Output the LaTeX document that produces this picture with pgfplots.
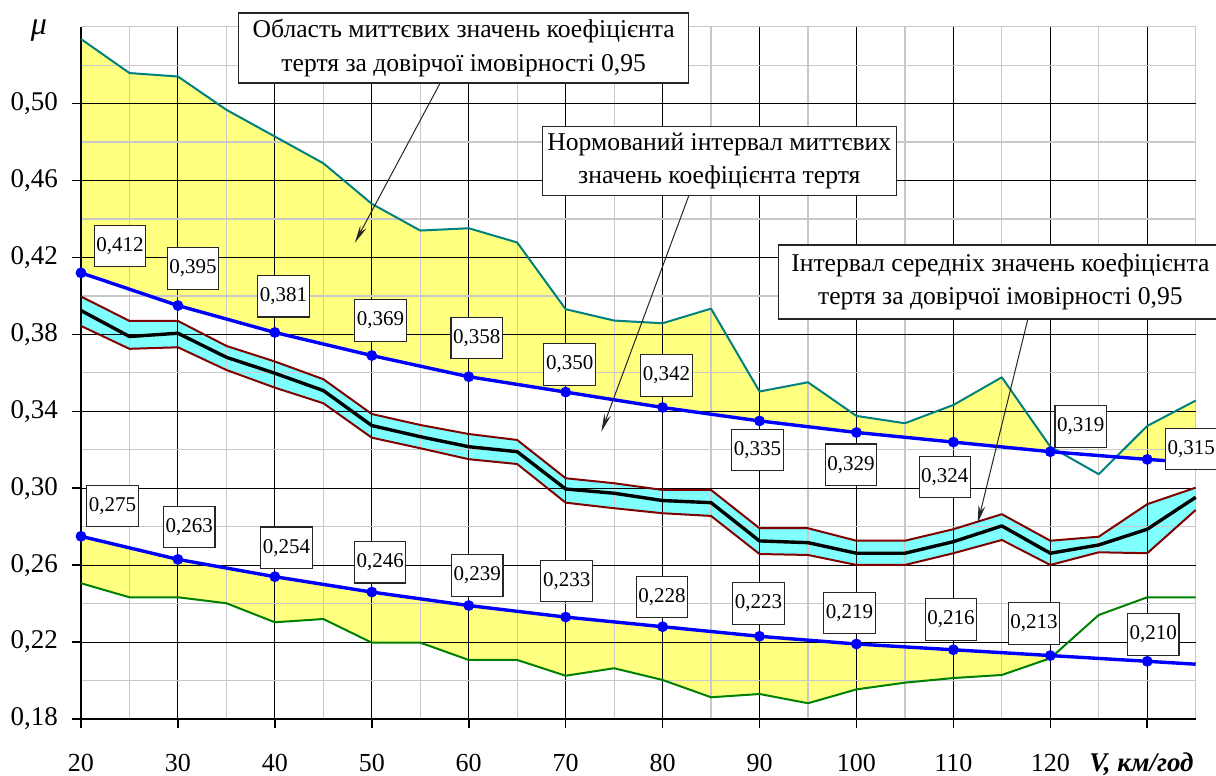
\documentclass[border=0pt]{standalone}
\usepackage{fontspec}
\setmainfont{Liberation Serif}
\usepackage{pgfplots}
\usepackage{pgfplotstable}
\pgfplotsset{compat=1.18}
\usepgfplotslibrary{fillbetween}
\usetikzlibrary{arrows.meta}

\definecolor{fillyellow}{HTML}{FFFF80}
\definecolor{bandcyan}{HTML}{80FFFF}
\definecolor{envteal}{HTML}{008080}
\definecolor{envgreen}{HTML}{008000}
\definecolor{bandred}{HTML}{800000}
\definecolor{normblue}{HTML}{0000FF}
\definecolor{minorgrid}{HTML}{C8C8C8}

% upper envelope of instantaneous values (p = 0.95)
\pgfplotstableread{
V mu
20 0.5336
25 0.5159
30 0.5141
35 0.4968
40 0.4829
45 0.4690
50 0.4479
55 0.4340
60 0.4352
65 0.4278
70 0.3931
75 0.3872
80 0.3858
85 0.3934
90 0.3503
95 0.3551
100 0.3376
105 0.3338
110 0.3433
115 0.3577
120 0.3216
125 0.3073
130 0.3324
135 0.3456
}\tealdata

% lower envelope of instantaneous values (p = 0.95)
\pgfplotstableread{
V mu
20 0.2506
25 0.2433
30 0.2433
35 0.2402
40 0.2303
45 0.2320
50 0.2197
55 0.2197
60 0.2107
65 0.2107
70 0.2025
75 0.2064
80 0.2003
85 0.1913
90 0.1930
95 0.1882
100 0.1954
105 0.1989
110 0.2013
115 0.2029
120 0.2116
125 0.2341
130 0.2433
135 0.2433
}\greendata

% mean values
\pgfplotstableread{
V mu
20 0.3924
25 0.3789
30 0.3806
35 0.3681
40 0.3598
45 0.3508
50 0.3326
55 0.3268
60 0.3216
65 0.3190
70 0.2996
75 0.2974
80 0.2936
85 0.2925
90 0.2726
95 0.2717
100 0.2662
105 0.2662
110 0.2722
115 0.2804
120 0.2662
125 0.2705
130 0.2787
135 0.2953
}\meandata

% upper limit of the interval of mean values
\pgfplotstableread{
V mu
20 0.3997
25 0.3870
30 0.3870
35 0.3740
40 0.3659
45 0.3567
50 0.3386
55 0.3329
60 0.3282
65 0.3251
70 0.3052
75 0.3026
80 0.2991
85 0.2991
90 0.2792
95 0.2792
100 0.2727
105 0.2727
110 0.2787
115 0.2865
120 0.2727
125 0.2748
130 0.2917
135 0.3003
}\redhidata

% lower limit of the interval of mean values
\pgfplotstableread{
V mu
20 0.3844
25 0.3725
30 0.3733
35 0.3615
40 0.3523
45 0.3442
50 0.3263
55 0.3208
60 0.3151
65 0.3126
70 0.2925
75 0.2896
80 0.2870
85 0.2856
90 0.2658
95 0.2653
100 0.2601
105 0.2601
110 0.2662
115 0.2731
120 0.2601
125 0.2667
130 0.2662
135 0.2887
}\redlodata

% normed interval: upper limit
\pgfplotstableread{
V mu
20 0.412
30 0.395
40 0.381
50 0.369
60 0.358
70 0.350
80 0.342
90 0.335
100 0.329
110 0.324
120 0.319
130 0.315
135 0.3133
}\nupdata

% normed interval: lower limit
\pgfplotstableread{
V mu
20 0.275
30 0.263
40 0.254
50 0.246
60 0.239
70 0.233
80 0.228
90 0.223
100 0.219
110 0.216
120 0.213
130 0.210
135 0.2085
}\nlodata

\tikzset{
  vbox/.style={draw=black!85, line width=0.6pt, fill=white, inner sep=0pt,
    minimum width=25.75pt, minimum height=20.75pt,
    font=\fontsize{10.5}{12}\selectfont},
  abox/.style={draw=black!85, line width=0.6pt, fill=white, inner sep=0pt,
    align=center, font=\fontsize{12.8}{16.7}\selectfont},
  annarrow/.style={-{Stealth[length=9pt,width=3.4pt]}, line width=0.5pt, black!85},
}

\begin{document}
\begin{tikzpicture}
\begin{axis}[
  set layers,
  scale only axis,
  width=557.35pt, height=346.15pt,
  at={(40.5pt,-359.5pt)}, anchor=south west,
  xmin=20, xmax=135, ymin=0.18, ymax=0.54,
  axis lines*=left,
  axis line style={line width=1pt, black},
  xtick={20,30,40,50,60,70,80,90,100,110,120,130},
  xticklabels={20,30,40,50,60,70,80,90,100,110,120,{}},
  minor xtick={25,35,45,55,65,75,85,95,105,115,125,135},
  ytick={0.18,0.22,0.26,0.30,0.34,0.38,0.42,0.46,0.50},
  minor ytick={0.20,0.24,0.28,0.32,0.36,0.40,0.44,0.48,0.52,0.54},
  grid=both,
  major grid style={black, line width=0.5pt},
  minor grid style={minorgrid, line width=0.6pt},
  tick align=outside,
  major tick length=4.5pt, minor tick length=0pt,
  tick style={black, line width=0.8pt},
  tick label style={font=\fontsize{13}{15}\selectfont},
  yticklabel style={/pgf/number format/.cd, fixed, fixed zerofill, precision=2, use comma, assume math mode=true, /tikz/.cd, xshift=-3.5pt, font=\fontsize{13.5}{15}\selectfont},
  xticklabel style={/pgf/number format/assume math mode=true, anchor=base, yshift=-21.8pt},
  clip=false,
]

% yellow areas
\addplot[name path=teal, envteal, line width=1pt, line join=round] table[x=V,y=mu] {\tealdata};
\addplot[name path=green, envgreen, line width=1pt, line join=round] table[x=V,y=mu] {\greendata};
\addplot[name path=nup, draw=none, forget plot] table[x=V,y=mu] {\nupdata};
\addplot[name path=nlo, draw=none, forget plot] table[x=V,y=mu] {\nlodata};
\addplot[fill=fillyellow, draw=none] fill between[of=teal and nup, split,
   every segment no 1/.style={fill=none}, on layer=axis background];
\addplot[fill=fillyellow, draw=none] fill between[of=green and nlo, split,
   every segment no 1/.style={fill=none}, on layer=axis background];

% interval of mean values
\addplot[name path=rhi, bandred, line width=1pt, line join=round] table[x=V,y=mu] {\redhidata};
\addplot[name path=rlo, bandred, line width=1pt, line join=round] table[x=V,y=mu] {\redlodata};
\addplot[fill=bandcyan, draw=none] fill between[of=rhi and rlo, on layer=axis background];
\addplot[black, line width=1.7pt, line join=round] table[x=V,y=mu] {\meandata};

% normed interval
\addplot[normblue, line width=1.7pt, mark=*, mark size=1.8pt, mark indices={1,...,12}] table[x=V,y=mu] {\nupdata};
\addplot[normblue, line width=1.7pt, mark=*, mark size=1.8pt, mark indices={1,...,12}] table[x=V,y=mu] {\nlodata};

% value labels, upper limit
\node[vbox] at (axis cs:24.02,0.4260) {0,412};
\node[vbox] at (axis cs:31.55,0.4143) {0,395};
\node[vbox] at (axis cs:40.88,0.3998) {0,381};
\node[vbox] at (axis cs:50.90,0.3873) {0,369};
\node[vbox] at (axis cs:60.82,0.3782) {0,358};
\node[vbox] at (axis cs:70.41,0.3643) {0,350};
\node[vbox] at (axis cs:80.41,0.3587) {0,342};
\node[vbox] at (axis cs:89.79,0.3199) {0,335};
\node[vbox] at (axis cs:99.45,0.3122) {0,329};
\node[vbox] at (axis cs:109.12,0.3059) {0,324};
\node[vbox] at (axis cs:123.14,0.3321) {0,319};
\node[vbox] at (axis cs:134.54,0.3204) {0,315};
% value labels, lower limit
\node[vbox] at (axis cs:23.25,0.2908) {0,275};
\node[vbox] at (axis cs:31.16,0.2799) {0,263};
\node[vbox] at (axis cs:41.19,0.2691) {0,254};
\node[vbox] at (axis cs:50.86,0.2615) {0,246};
\node[vbox] at (axis cs:60.88,0.2546) {0,239};
\node[vbox] at (axis cs:70.10,0.2518) {0,233};
\node[vbox] at (axis cs:79.95,0.2435) {0,228};
\node[vbox] at (axis cs:89.90,0.2401) {0,223};
\node[vbox] at (axis cs:99.28,0.2351) {0,219};
\node[vbox] at (axis cs:109.76,0.2317) {0,216};
\node[vbox] at (axis cs:118.32,0.2296) {0,213};
\node[vbox] at (axis cs:130.62,0.2240) {0,210};

% annotations
\node[abox, minimum width=225pt, minimum height=35pt] at (axis cs:59.48,0.5289)
  {Область миттєвих значень коефіцієнта\\тертя за довірчої імовірності 0,95};
\draw[annarrow] (axis cs:57.01,0.5103) -- (axis cs:48.25,0.4276);

\node[abox, minimum width=177pt, minimum height=34.5pt] at (axis cs:85.85,0.4701)
  {Нормований інтервал миттєвих\\значень коефіцієнта тертя};
\draw[annarrow] (axis cs:82.71,0.4522) -- (axis cs:73.68,0.3294);

\node[abox, minimum width=222pt, minimum height=37pt] at (axis cs:114.85,0.4072)
  {Інтервал середніх значень коефіцієнта\\тертя за довірчої імовірності 0,95};
\draw[annarrow] (axis cs:117.66,0.3875) -- (axis cs:112.50,0.2818);

\end{axis}

\node[font=\fontsize{16}{18}\selectfont\itshape] at (19.5pt,-15.5pt) {μ};
\node[anchor=base west, font=\fontsize{13.5}{15}\selectfont\bfseries\itshape, inner sep=0pt] at (544.5pt,-385.8pt) {V, км/год};

\pgfresetboundingbox
\path[use as bounding box] (0,0) rectangle (608pt,-388pt);
\end{tikzpicture}
\end{document}
